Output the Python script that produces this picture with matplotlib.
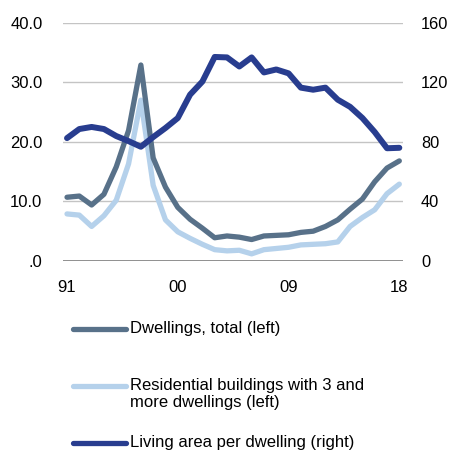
import numpy as np
import matplotlib
matplotlib.use('Agg')
import matplotlib.pyplot as plt
from matplotlib.lines import Line2D

plt.rcParams['font.family'] = ['Liberation Sans', 'DejaVu Sans']

years = list(range(1991, 2019))
# dwellings, total (left axis)
dwellings_total = [10.7, 10.9, 9.4, 11.2, 15.8, 21.9, 32.9, 17.3, 12.4, 9.0,
                   7.0, 5.5, 3.9, 4.2, 4.0, 3.6, 4.2, 4.3, 4.4, 4.8,
                   5.0, 5.8, 6.9, 8.7, 10.4, 13.3, 15.6, 16.8]
# residential buildings with 3 and more dwellings (left axis)
residential_3plus = [7.9, 7.7, 5.8, 7.6, 10.2, 16.3, 27.0, 12.7, 6.9, 4.9,
                     3.8, 2.8, 1.9, 1.7, 1.8, 1.2, 1.9, 2.1, 2.3, 2.7,
                     2.8, 2.9, 3.2, 5.8, 7.3, 8.6, 11.3, 12.9]
# living area per dwelling (right axis)
living_area = [82.5, 88.6, 90.0, 88.6, 83.9, 80.5, 76.7, 83.2, 89.3, 96.0,
               111.7, 120.5, 137.0, 136.7, 130.6, 136.7, 126.6, 128.6, 126.0, 116.4,
               115.0, 116.4, 108.3, 103.5, 96.0, 86.6, 75.7, 76.0]

left_ticks = [0, 10, 20, 30, 40]
left_labels = ['.0', '10.0', '20.0', '30.0', '40.0']
right_ticks = [0, 40, 80, 120, 160]
x_ticks = [1991, 2000, 2009, 2018]
x_labels = ['91', '00', '09', '18']

c_total = '#587189'
c_resid = '#b5d1eb'
c_area = '#283d8f'

fig = plt.figure(figsize=(4.51, 4.55), dpi=100)
ax = fig.add_axes([0.1404, 0.4264, 0.7532, 0.5237])
ax2 = ax.twinx()

ax.plot(years, residential_3plus, color=c_resid, lw=3.8, solid_capstyle='round', zorder=3)
ax.plot(years, dwellings_total, color=c_total, lw=3.8, solid_capstyle='round', zorder=4)
ax2.plot(years, living_area, color=c_area, lw=4.3, solid_capstyle='round', zorder=5)

ax.set_xlim(1990.7, 2018.3)
ax.set_ylim(0, 40)
ax2.set_ylim(0, 160)

ax.set_yticks(left_ticks)
ax.set_yticklabels(left_labels)
ax2.set_yticks(right_ticks)
ax.set_xticks(x_ticks)
ax.set_xticklabels(x_labels)

ax.grid(axis='y', color='#c4c4c4', lw=1.0)
ax.set_axisbelow(True)
for a in (ax, ax2):
    for s in ['top', 'left', 'right', 'bottom']:
        a.spines[s].set_visible(False)
ax.axhline(0, color='#7f7f7f', lw=1.2, zorder=2)

ax.tick_params(axis='y', length=0, pad=15, labelsize=12, colors='black')
ax.tick_params(axis='x', length=0, pad=14, labelsize=12, colors='black')
ax2.tick_params(axis='y', length=0, pad=13, labelsize=11.8, colors='black')

# legend drawn by hand, handles aligned with the first text line
W, H = 451.0, 455.0
entries = [(c_total, 'Dwellings, total (left)', 329),
           (c_resid, 'Residential buildings with 3 and\nmore dwellings (left)', 386),
           (c_area, 'Living area per dwelling (right)', 443)]
for col, lab, yy in entries:
    fig.add_artist(Line2D([73 / W, 126 / W], [1 - yy / H, 1 - yy / H], color=col, lw=3.8,
                          solid_capstyle='round', transform=fig.transFigure))
    fig.text(130 / W, 1 - (yy - 8) / H, lab, fontsize=12, va='top', ha='left',
             linespacing=1.2, color='black')

fig.savefig('out.png', dpi=100)
